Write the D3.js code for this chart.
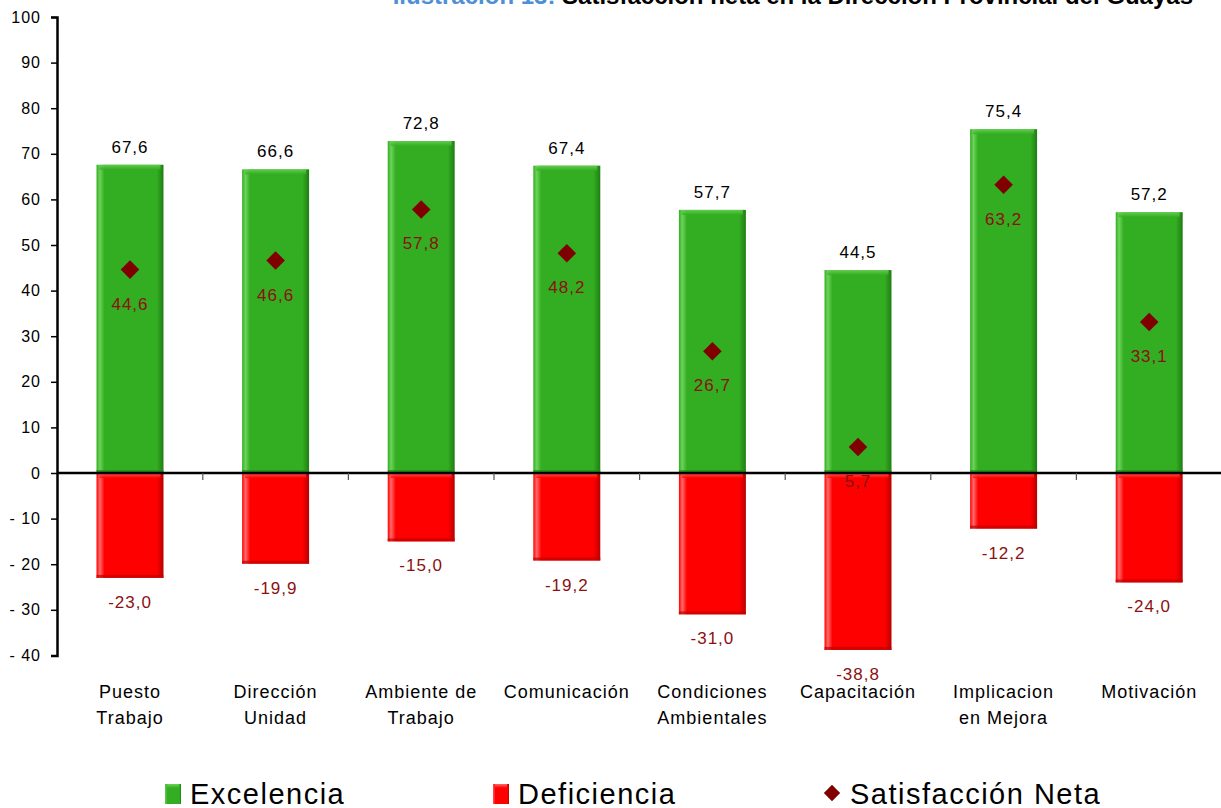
<!DOCTYPE html>
<html lang="es">
<head>
<meta charset="UTF-8">
<title>Satisfacción neta</title>
<style>
  body { margin: 0; background: #fff; }
  svg { display: block; font-family: "Liberation Sans", Arial, sans-serif; }
  .axis path, .axis line { stroke: #000; }
  .axis text { font-size: 16px; fill: #000; letter-spacing: 1px; }
  .cat { font-size: 18px; letter-spacing: 1px; fill: #000; }
  .lbl-pos { font-size: 17px; letter-spacing: 1px; fill: #000; }
  .lbl-neg, .lbl-net { font-size: 17px; letter-spacing: 1px; fill: #8b1010; }
  .legend text { font-size: 29px; letter-spacing: 1.5px; fill: #000; }
</style>
</head>
<body>
<svg width="1221" height="808"></svg>
<script src="https://cdn.jsdelivr.net/npm/d3@7"></script>
<script>
var categories = [
  ["Puesto", "Trabajo"],
  ["Dirección", "Unidad"],
  ["Ambiente de", "Trabajo"],
  ["Comunicación"],
  ["Condiciones", "Ambientales"],
  ["Capacitación"],
  ["Implicacion", "en Mejora"],
  ["Motivación"]
];
var excelencia = [67.6, 66.6, 72.8, 67.4, 57.7, 44.5, 75.4, 57.2];
var deficiencia = [-23.0, -19.9, -15.0, -19.2, -31.0, -38.8, -12.2, -24.0];
var satisfaccion = [44.6, 46.6, 57.8, 48.2, 26.7, 5.7, 63.2, 33.1];
var yTicks = [100, 90, 80, 70, 60, 50, 40, 30, 20, 10, 0, -10, -20, -30, -40];
var legendNames = ["Excelencia", "Deficiencia", "Satisfacción Neta"];

var svg = d3.select("svg");
var fmt = function(v) { return v.toFixed(1).replace(".", ","); };

// gradients for the bevelled bars
var defs = svg.append("defs");
function bevel(id, light, mid, dark) {
  var h = defs.append("linearGradient").attr("id", id + "H")
    .attr("x1", 0).attr("x2", 1).attr("y1", 0).attr("y2", 0);
  h.append("stop").attr("offset", "0").attr("stop-color", mid);
  h.append("stop").attr("offset", "0.05").attr("stop-color", light);
  h.append("stop").attr("offset", "0.12").attr("stop-color", mid);
  h.append("stop").attr("offset", "0.9").attr("stop-color", mid);
  h.append("stop").attr("offset", "1").attr("stop-color", dark);
  var v = defs.append("linearGradient").attr("id", id + "V")
    .attr("x1", 0).attr("x2", 0).attr("y1", 0).attr("y2", 1);
  v.append("stop").attr("offset", "0").attr("stop-color", light);
  v.append("stop").attr("offset", "1").attr("stop-color", mid);
}
bevel("g", "#6cd35a", "#33ad21", "#1f7d14");
bevel("r", "#ff6a6a", "#ff0000", "#b80000");

var x = d3.scaleBand().domain(d3.range(categories.length))
  .range([57.2, 1222]).paddingInner(0.54).paddingOuter(0.27);
var xb = d3.scaleBand().domain(d3.range(categories.length)).range([57.2, 1222]);
var y = d3.scaleLinear().domain([-40, 100]).range([655.4, 17]);

// title (cut off at the top of the page)
var title = svg.append("text").attr("x", 1193).attr("y", 4)
  .attr("text-anchor", "end").style("font-size", "24px").style("font-weight", "bold");
title.append("tspan").attr("fill", "#4f8fd6").text("Ilustración 13: ");
title.append("tspan").attr("fill", "#000").text("Satisfacción neta en la Dirección Provincial del Guayas");

// y axis
var yAxis = svg.append("g").attr("class", "axis")
  .attr("transform", "translate(57,0)")
  .call(d3.axisLeft(y).tickValues(yTicks).tickSize(6).tickPadding(10)
    .tickFormat(function(d) { return d < 0 ? "- " + (-d) : d; }));
yAxis.select(".domain").attr("stroke-width", 2.5);
yAxis.selectAll(".tick line").attr("stroke-width", 1.5);

function drawBars(data, id) {
  var g = svg.append("g");
  data.forEach(function(v, i) {
    var top = y(Math.max(0, v)), h = Math.abs(y(v) - y(0));
    g.append("rect").attr("x", x(i)).attr("y", top)
      .attr("width", x.bandwidth()).attr("height", h)
      .attr("fill", "url(#" + id + "H)");
    g.append("rect").attr("x", x(i) + 3).attr("y", top)
      .attr("width", x.bandwidth() - 6).attr("height", Math.min(5, h))
      .attr("fill", "url(#" + id + "V)").attr("opacity", 0.8);
    g.append("rect").attr("x", x(i)).attr("y", top + h - 3)
      .attr("width", x.bandwidth()).attr("height", 3)
      .attr("fill", id === "g" ? "#23841a" : "#c00000").attr("opacity", 0.7);
  });
}
drawBars(excelencia, "g");
drawBars(deficiencia, "r");

// x axis at zero
var xAxis = svg.append("g").attr("transform", "translate(0," + y(0) + ")");
xAxis.append("line").attr("x1", 57).attr("x2", 1221)
  .attr("stroke", "#000").attr("stroke-width", 2.5);
xAxis.selectAll(".xt").data(d3.range(1, categories.length)).enter().append("line")
  .attr("x1", function(d) { return xb(d); }).attr("x2", function(d) { return xb(d); })
  .attr("y1", 0).attr("y2", 7).attr("stroke", "#555").attr("stroke-width", 1.2);

// value labels
svg.selectAll(".lbl-pos").data(excelencia).enter().append("text")
  .attr("class", "lbl-pos").attr("text-anchor", "middle")
  .attr("x", function(d, i) { return x(i) + x.bandwidth() / 2; })
  .attr("y", function(d) { return y(d) - 12; })
  .text(fmt);
svg.selectAll(".lbl-neg").data(deficiencia).enter().append("text")
  .attr("class", "lbl-neg").attr("text-anchor", "middle")
  .attr("x", function(d, i) { return x(i) + x.bandwidth() / 2; })
  .attr("y", function(d) { return y(d) + 30; })
  .text(fmt);

// net satisfaction diamonds
var diamond = d3.symbol().type(d3.symbolDiamond2).size(220);
svg.selectAll(".net").data(satisfaccion).enter().append("path")
  .attr("class", "net").attr("fill", "#800000")
  .attr("transform", function(d, i) { return "translate(" + (x(i) + x.bandwidth() / 2) + "," + y(d) + ")"; })
  .attr("d", diamond);
svg.selectAll(".lbl-net").data(satisfaccion).enter().append("text")
  .attr("class", "lbl-net").attr("text-anchor", "middle")
  .attr("x", function(d, i) { return x(i) + x.bandwidth() / 2; })
  .attr("y", function(d) { return y(d) + 40; })
  .text(fmt);

// category labels
categories.forEach(function(lines, i) {
  var t = svg.append("text").attr("class", "cat").attr("text-anchor", "middle")
    .attr("x", xb(i) + xb.bandwidth() / 2).attr("y", 698);
  lines.forEach(function(l, j) {
    t.append("tspan").attr("x", xb(i) + xb.bandwidth() / 2).attr("dy", j === 0 ? 0 : 26).text(l);
  });
});

// legend
var legX = [165, 493, 824];
var leg = svg.append("g").attr("class", "legend");
legendNames.forEach(function(name, i) {
  if (i < 2) {
    var id = i === 0 ? "g" : "r";
    leg.append("rect").attr("x", legX[i]).attr("y", 784).attr("width", 16).attr("height", 20)
      .attr("fill", "url(#" + id + "H)");
    leg.append("rect").attr("x", legX[i] + 2).attr("y", 784).attr("width", 12).attr("height", 4)
      .attr("fill", "url(#" + id + "V)");
  } else {
    leg.append("path").attr("fill", "#800000")
      .attr("transform", "translate(" + (legX[i] + 8) + ",793)")
      .attr("d", d3.symbol().type(d3.symbolDiamond2).size(170));
  }
  leg.append("text").attr("x", legX[i] + (i < 2 ? 25 : 26)).attr("y", 804).text(name);
});
</script>
</body>
</html>
